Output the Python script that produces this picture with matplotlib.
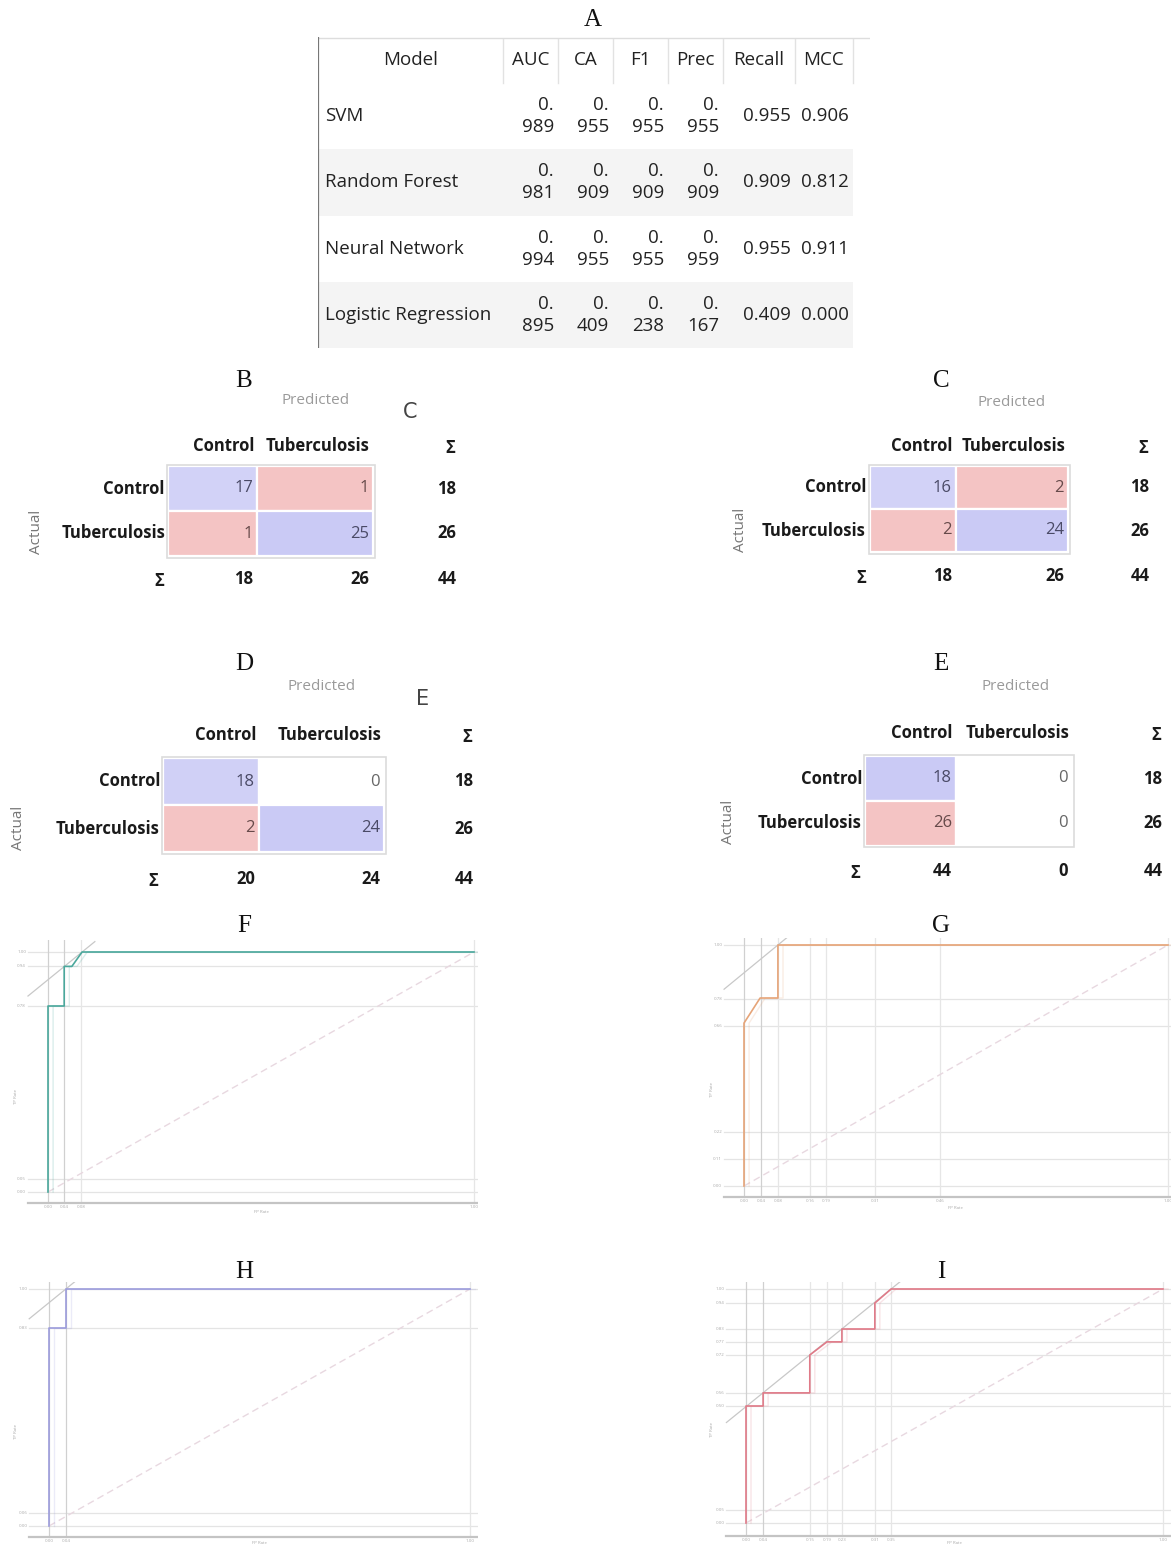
import numpy as np
import matplotlib.pyplot as plt
from matplotlib.patches import Rectangle

W, H = 1171, 1546

# ---- table A data
models = ["SVM", "Random Forest", "Neural Network", "Logistic Regression"]
metrics = ["AUC", "CA", "F1", "Prec", "Recall", "MCC"]
auc = [0.989, 0.981, 0.994, 0.895]
ca = [0.955, 0.909, 0.955, 0.409]
f1 = [0.955, 0.909, 0.955, 0.238]
prec = [0.955, 0.909, 0.959, 0.167]
recall = [0.955, 0.909, 0.955, 0.409]
mcc = [0.906, 0.812, 0.911, 0.000]

# ---- confusion matrices (rows = actual, cols = predicted)
classes = ["Control", "Tuberculosis"]
cm_svm = [[17, 1], [1, 25]]
cm_rf = [[16, 2], [2, 24]]
cm_nn = [[18, 0], [2, 24]]
cm_lr = [[18, 0], [26, 0]]

# ---- ROC curves
roc_svm_fpr = [0, 0, 0.038, 0.038, 0.056, 0.08, 1]
roc_svm_tpr = [0, 0.775, 0.775, 0.94, 0.94, 1, 1]
roc_rf_fpr = [0, 0, 0.038, 0.08, 0.08, 1]
roc_rf_tpr = [0, 0.676, 0.78, 0.78, 1, 1]
roc_nn_fpr = [0, 0, 0.04, 0.04, 1]
roc_nn_tpr = [0, 0.835, 0.835, 1, 1]
roc_lr_fpr = [0, 0, 0.041, 0.041, 0.153, 0.153, 0.194, 0.23, 0.23, 0.309, 0.309, 0.348, 1]
roc_lr_tpr = [0, 0.5, 0.5, 0.556, 0.556, 0.718, 0.774, 0.774, 0.829, 0.829, 0.94, 1, 1]

# threshold grid lines shown in each ROC plot
grid_svm_fpr = [0, 0.038, 0.078, 1]
grid_svm_tpr = [0, 0.054, 0.775, 0.94, 1]
grid_rf_fpr = [0, 0.04, 0.08, 0.156, 0.193, 0.309, 0.462, 1]
grid_rf_tpr = [0, 0.112, 0.224, 0.664, 0.776, 1]
grid_nn_fpr = [0, 0.04, 1]
grid_nn_tpr = [0, 0.055, 0.835, 1]
grid_lr_fpr = [0, 0.041, 0.153, 0.194, 0.23, 0.309, 0.348, 1]
grid_lr_tpr = [0, 0.054, 0.5, 0.556, 0.718, 0.774, 0.829, 0.94, 1]

plt.rcParams['font.family'] = ['Open Sans', 'DejaVu Sans']

fig = plt.figure(figsize=(W / 100, H / 100), dpi=100)


def px_axes(x0, y0, x1, y1):
    return fig.add_axes([x0 / W, 1 - y1 / H, (x1 - x0) / W, (y1 - y0) / H])


bg = px_axes(0, 0, W, H)
bg.set_xlim(0, W)
bg.set_ylim(H, 0)
bg.axis('off')

serif = dict(family='Liberation Serif', fontsize=18, ha='center', va='center', color='#111')
for lab, x, y in [("A", 593, 20), ("B", 244, 381), ("C", 941, 381), ("D", 244, 664),
                  ("E", 941, 664), ("F", 244, 926), ("G", 941, 926), ("H", 244, 1272),
                  ("I", 941, 1272)]:
    bg.text(x, y, lab, **serif)
# stray panel letters in the source image
bg.text(410, 412, "C", fontsize=15, ha='center', va='center', color='#444', family='DejaVu Sans')
bg.text(423, 699, "E", fontsize=15, ha='center', va='center', color='#444', family='DejaVu Sans')

# ================= table A =================
ta = px_axes(318, 37, 870, 348)
tw, th = 552, 311
ta.set_xlim(0, tw)
ta.set_ylim(th, 0)
ta.axis('off')
col_edges = [0, 185, 240, 295, 350, 405, 477, 535]
head_h = 46
row_h = (th - head_h) / len(models)
cols = [auc, ca, f1, prec, recall, mcc]
wrap = [True, True, True, True, False, False]

ta.plot([0, tw], [0.5, 0.5], color='#dddddd', lw=1)
for i in range(len(models)):
    if i % 2 == 1:
        ta.add_patch(Rectangle((0, head_h + i * row_h), col_edges[-1], row_h,
                               facecolor='#f4f4f4', edgecolor='none'))
for e in col_edges[1:]:
    ta.plot([e, e], [2, head_h], color='#e2e2e2', lw=1)
ta.plot([0, 0], [0, th], color='#777777', lw=1.6)

fs_t = 13.5
ta.text((col_edges[0] + col_edges[1]) / 2, head_h / 2, "Model", ha='center', va='center',
        fontsize=fs_t, color='#222')
for j, m in enumerate(metrics):
    ta.text((col_edges[j + 1] + col_edges[j + 2]) / 2, head_h / 2, m, ha='center',
            va='center', fontsize=fs_t, color='#222')
for i, name in enumerate(models):
    yc = head_h + (i + 0.5) * row_h
    ta.text(7, yc, name, ha='left', va='center', fontsize=fs_t, color='#222')
    for j, vals in enumerate(cols):
        s = f"{vals[i]:.3f}"
        if wrap[j]:
            s = s[:2] + "\n" + s[2:]
        ta.text(col_edges[j + 2] - 4, yc, s, ha='right', va='center', fontsize=fs_t,
                color='#222', multialignment='right', linespacing=1.3)


# ================= confusion matrices =================
def mix(base, t):
    return tuple(1 - t * (1 - c) for c in base)


def conf_matrix(cm, cells, split, sum_x, head_y, bottom_y, pred_xy, act_xy, sig_x, lab_x):
    x0, y0, x1, y1 = cells
    ax = px_axes(x0, y0, x1, y1)
    w, h = x1 - x0, y1 - y0
    ax.set_xlim(0, w)
    ax.set_ylim(h, 0)
    ax.axis('off')
    edges = [0, split - x0, w]
    rh = h / 2
    dmax = max(cm[0][0], cm[1][1])
    ax.add_patch(Rectangle((-1.5, -1.5), w + 3, h + 3, facecolor='none',
                           edgecolor='#dcdcdc', lw=1.2, clip_on=False))
    for i in range(2):
        for j in range(2):
            v = cm[i][j]
            if v == 0:
                fc = 'white'
            elif i == j:
                fc = mix((0.45, 0.45, 0.9), 0.2 + 0.18 * v / dmax)
            else:
                fc = mix((0.9, 0.45, 0.45), 0.42)
            ax.add_patch(Rectangle((edges[j], i * rh), edges[j + 1] - edges[j], rh,
                                   facecolor=fc, edgecolor='white', lw=1.6))
            tc = '#4a4a66' if i == j else '#664a4a'
            if v == 0:
                tc = '#666666'
            ax.text(edges[j + 1] - 4, (i + 0.5) * rh, str(v), ha='right', va='center',
                    fontsize=12, color=tc)
    bold = dict(fontsize=12, fontweight='bold', color='#1a1a1a', va='center', clip_on=False)
    # column headers
    for j in range(2):
        ax.text(edges[j + 1] - 3, head_y - y0, classes[j], ha='right', **bold)
    ax.text(sum_x - x0 + 3, head_y - y0 + 2, "Σ", ha='center', **bold)
    # rows
    for i in range(2):
        ax.text(lab_x - x0, (i + 0.5) * rh, classes[i], ha='right', **bold)
        ax.text(sum_x - x0, (i + 0.5) * rh, str(sum(cm[i])), ha='center', **bold)
    # column sums
    by = bottom_y - y0
    ax.text(sig_x - x0, by + 2, "Σ", ha='center', **bold)
    for j in range(2):
        ax.text(edges[j + 1] - 4, by, str(cm[0][j] + cm[1][j]), ha='right', **bold)
    ax.text(sum_x - x0, by, str(sum(map(sum, cm))), ha='center', **bold)
    ax.text(pred_xy[0] - x0, pred_xy[1] - y0, "Predicted", ha='center', va='center',
            fontsize=11, color='#9a9a9a', clip_on=False)
    ax.text(act_xy[0] - x0, act_xy[1] - y0, "Actual", ha='center', va='center',
            fontsize=11, color='#777777', rotation=90, clip_on=False)


conf_matrix(cm_svm, (168, 466, 373, 556), 257, 447, 446, 579, (316, 401), (36, 532), 159, 165)
conf_matrix(cm_rf, (870, 466, 1068, 552), 956, 1140, 446, 576, (1012, 402), (741, 530), 861, 866)
conf_matrix(cm_nn, (163, 758, 384, 852), 259, 464, 735, 879, (322, 686), (18, 828), 153, 160)
conf_matrix(cm_lr, (865, 756, 1072, 846), 956, 1153, 733, 871, (1016, 686), (728, 822), 855, 862)


# ================= ROC curves =================
def roc_panel(box, data_px, axis_px, fpr, tpr, gfpr, gtpr, color, anchor):
    bx0, by0, bx1, by1 = box
    x0p, x1p, y0p, y1p = data_px
    sx = x1p - x0p
    sy = y0p - y1p
    ax = px_axes(bx0, by0, bx1, by1)
    xmin = (bx0 - x0p) / sx
    ymin = (y0p - by1) / sy
    ax.set_xlim(xmin, (bx1 - x0p) / sx)
    ax.set_ylim(ymin, (y0p - by0) / sy)
    ax.axis('off')
    ya = (y0p - axis_px) / sy
    xl = -0.047
    top = (y0p - by0) / sy
    for g in gtpr:
        ax.plot([xl, 1.02], [g, g], color='#e4e4e4', lw=0.9, zorder=1)
    for k, g in enumerate(gfpr):
        c = '#d0d0d0' if k < 2 else '#e6e6e6'
        ax.plot([g, g], [ya, top], color=c, lw=0.9, zorder=1)
    ax.plot([0, 1], [0, 1], color='#e8d8e0', lw=1, ls=(0, (5, 3)), zorder=2)
    slope = 26 / 18
    xs = np.array([xl, anchor[0] + 0.03])
    ax.plot(xs, anchor[1] + slope * (xs - anchor[0]), color='#c8c8c8', lw=0.9, zorder=2)
    ax.plot(np.array(fpr) + 0.012, np.array(tpr), color=color, lw=1, alpha=0.2, zorder=3)
    ax.plot(fpr, tpr, color=color, lw=1.2, zorder=4)
    ax.plot([xl, (bx1 - x0p) / sx], [ya, ya], color='#c4c4c4', lw=1.6, zorder=2)
    tick = dict(fontsize=3.2, color='#aaaaaa')
    for g in gtpr:
        ax.text(-0.062, g, f"{g:.2f}", ha='center', va='center', **tick)
    tick_y = ya - 4 / sy
    for g in gfpr:
        ax.text(g, tick_y, f"{g:.2f}", ha='center', va='center', **tick)
    lab_y = max(ya - 11 / sy, ymin + 3 / sy)
    ax.text(0.5, lab_y, "FP Rate", ha='center', va='center', **tick)
    ax.text(xmin + 0.004, 0.4, "TP Rate", ha='left', va='center', rotation=90, **tick)


roc_panel((12, 940, 478, 1215), (48, 474, 1192, 952), 1203,
          roc_svm_fpr, roc_svm_tpr, grid_svm_fpr, grid_svm_tpr, '#4aa89c', (0.08, 1.0))
roc_panel((708, 938, 1171, 1212), (744, 1168, 1186, 945), 1197,
          roc_rf_fpr, roc_rf_tpr, grid_rf_fpr, grid_rf_tpr, '#e6a478', (0.08, 1.0))
roc_panel((12, 1282, 478, 1546), (49, 470, 1526, 1289), 1537,
          roc_nn_fpr, roc_nn_tpr, grid_nn_fpr, grid_nn_tpr, '#9c9cdc', (0.04, 1.0))
roc_panel((708, 1282, 1171, 1546), (746, 1163, 1523, 1289), 1536,
          roc_lr_fpr, roc_lr_tpr, grid_lr_fpr, grid_lr_tpr, '#e07a88', (0.348, 1.0))

fig.savefig("out.png", dpi=100)
